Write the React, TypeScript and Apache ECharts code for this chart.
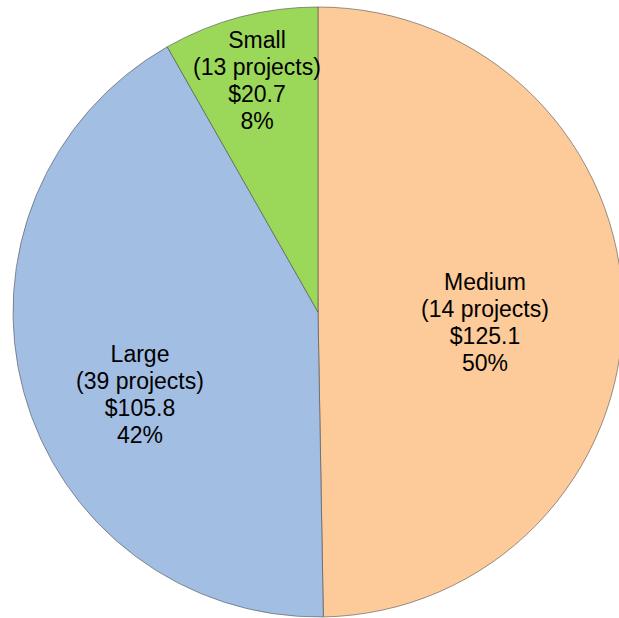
import React, { useEffect, useRef } from "react";
import * as echarts from "echarts";

const categories = ["Medium", "Large", "Small"];
const amounts = [125.1, 105.8, 20.7];
const projectCounts = [14, 39, 13];
const colors = ["#FDCA99", "#A3BEE3", "#9BD85A"];
// label anchor positions (px) within the chart canvas
const labelAnchors = [
  [485, 322],
  [140, 394],
  [257, 80],
];

export default function App() {
  const ref = useRef<HTMLDivElement>(null);
  useEffect(() => {
    if (!ref.current) return;
    const chart = echarts.init(ref.current, undefined, { renderer: "svg" });
    chart.setOption({
      animation: false,
      backgroundColor: "#ffffff",
      series: [
        {
          type: "pie",
          center: [318, 312],
          radius: 305,
          startAngle: 90,
          clockwise: true,
          percentPrecision: 0,
          avoidLabelOverlap: false,
          itemStyle: {
            borderColor: "rgba(70,70,70,0.55)",
            borderWidth: 1,
          },
          label: {
            show: true,
            position: "inside",
            color: "#000",
            fontFamily: "Liberation Sans",
            fontSize: 23,
            lineHeight: 27,
            align: "center",
            verticalAlign: "middle",
            formatter: (p: any) =>
              `${p.name}\n(${projectCounts[p.dataIndex]} projects)\n$${p.value}\n${Math.round(p.percent)}%`,
          },
          labelLine: { show: false },
          labelLayout: (p: any) => ({
            x: labelAnchors[p.dataIndex][0],
            y: labelAnchors[p.dataIndex][1],
            align: "center",
            verticalAlign: "middle",
          }),
          emphasis: { disabled: true },
          data: categories.map((c, i) => ({
            name: c,
            value: amounts[i],
            itemStyle: { color: colors[i] },
          })),
        },
      ],
    });
    return () => chart.dispose();
  }, []);
  return (
    <div
      ref={ref}
      style={{ position: "fixed", left: 0, top: 0, width: 619, height: 618 }}
    />
  );
}
